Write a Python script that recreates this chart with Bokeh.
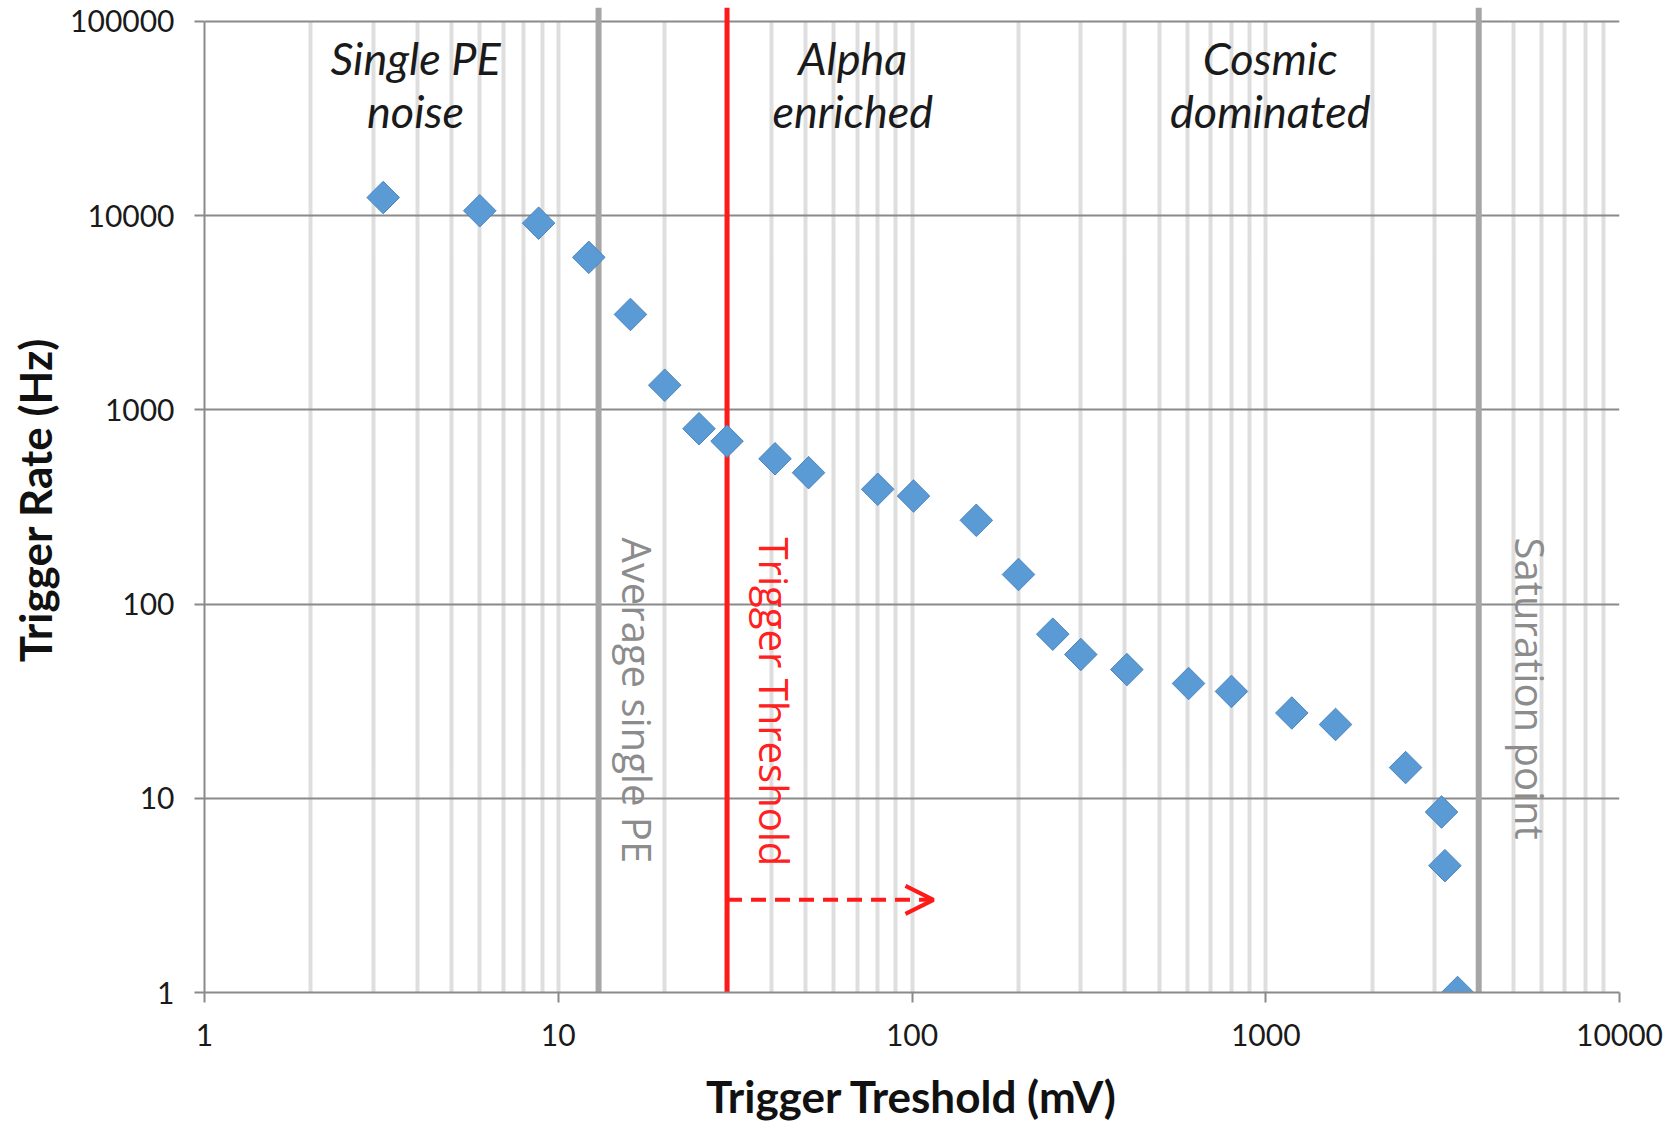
import math

from bokeh.core.properties import value
from bokeh.embed import file_html
from bokeh.models import Arrow, FixedTicker, OpenHead, Range1d
from bokeh.plotting import figure
from bokeh.resources import INLINE

# Measured trigger rate versus discriminator threshold
threshold_mv = [3.2, 6, 8.8, 12.2, 16, 20, 25, 30, 41, 51, 80, 101, 152, 200,
                250, 300, 405, 605, 800, 1185, 1575, 2485, 3140, 3210, 3485]
rate_hz = [12400, 10600, 9150, 6100, 3100, 1340, 800, 690, 560, 475, 390, 360,
           270, 142, 70, 55, 46, 39, 35.5, 27.5, 24, 14.4, 8.5, 4.5, 1.0]

x_ticks = [1, 10, 100, 1000, 10000]
x_tick_labels = ["1", "10", "100", "1000", "10000"]
y_ticks = [1, 10, 100, 1000, 10000, 100000]
y_tick_labels = ["1", "10", "100", "1000", "10000", "100000"]

# Regions of the threshold scan
region_first = ["Single PE", "Alpha", "Cosmic"]
region_second = ["noise", "enriched", "dominated"]
region_x = [3.95, 68, 1030]

# Reference levels drawn as vertical lines
ref_names = ["Average single PE", "Trigger Threshold", "Saturation point"]
ref_mv = [13, 30, 4000]
ref_colors = ["#a6a6a6", "#ff1a1a", "#a6a6a6"]
ref_text_colors = ["#8c8c8c", "#ff2020", "#8c8c8c"]
ref_widths = [6, 5, 6]

# Accepted-region arrow from the trigger threshold
arrow_from_mv, arrow_to_mv, arrow_rate = 30, 115, 3

Y_TOP = 118000   # room above the last decade for the reference lines

p = figure(width=1667, height=1124, x_axis_type="log", y_axis_type="log",
           x_range=Range1d(1, 10000), y_range=Range1d(1, Y_TOP),
           output_backend="svg", toolbar_location=None,
           min_border_left=204, min_border_right=48,
           min_border_top=7, min_border_bottom=130)
p.outline_line_color = None
p.background_fill_color = "white"

minor = [k * 10 ** d for d in range(4) for k in range(2, 10)]
p.xaxis.ticker = FixedTicker(ticks=x_ticks, minor_ticks=minor)
p.yaxis.ticker = FixedTicker(ticks=y_ticks, minor_ticks=[])
p.xgrid.ticker = p.xaxis.ticker
p.ygrid.ticker = p.yaxis.ticker
p.xaxis.major_label_overrides = dict(zip(x_ticks, x_tick_labels))
p.yaxis.major_label_overrides = dict(zip(y_ticks, y_tick_labels))

p.xgrid.grid_line_color = "#dedede"
p.xgrid.grid_line_width = 4
p.xgrid.minor_grid_line_color = "#dedede"
p.xgrid.minor_grid_line_width = 4
p.ygrid.grid_line_color = "#8a8a8a"
p.ygrid.grid_line_width = 2
p.ygrid.minor_grid_line_color = None

use_mask = True
for g in p.xgrid:
    if "cross_bounds" in g.properties():
        g.cross_bounds = (1, 100000)
        use_mask = False

p.yaxis.bounds = (1, 100000)

for ax in (p.xaxis, p.yaxis):
    ax.axis_line_color = "#8a8a8a"
    ax.axis_line_width = 2
    ax.major_tick_line_color = "#8a8a8a"
    ax.major_tick_line_width = 2
    ax.major_tick_out = 10
    ax.major_tick_in = 0
    ax.minor_tick_line_color = None
    ax.major_label_text_font = "Lato"
    ax.major_label_text_font_size = "30px"
    ax.major_label_text_color = "#1a1a1a"
    ax.axis_label_text_font = "Lato"
    ax.axis_label_text_font_style = "bold"
    ax.axis_label_text_font_size = "44px"
    ax.axis_label_text_color = "#111111"

p.xaxis.major_label_standoff = 21
p.yaxis.major_label_standoff = 20
p.xaxis.axis_label = "Trigger Treshold (mV)"
p.yaxis.axis_label = "Trigger Rate (Hz)"
p.xaxis.axis_label_standoff = 21
p.yaxis.axis_label_standoff = 6

if use_mask:
    p.quad(left=1, right=10000, bottom=100000 * 1.004, top=Y_TOP,
           fill_color="white", line_color=None)

# Vertical reference lines and their labels
p.segment(x0=ref_mv, y0=[1] * 3, x1=ref_mv, y1=[Y_TOP] * 3,
          line_color=ref_colors, line_width=ref_widths)
p.text(x=ref_mv, y=[220] * 3, text=ref_names, angle=-math.pi / 2,
       x_offset=[39, 47, 52], text_align="left", text_baseline="alphabetic",
       text_font=value("Open Sans"), text_font_size="40px",
       text_color=ref_text_colors)

p.add_layout(Arrow(end=OpenHead(size=28, line_color="#ff1a1a", line_width=4),
                   x_start=arrow_from_mv, y_start=arrow_rate,
                   x_end=arrow_to_mv, y_end=arrow_rate,
                   line_color="#ff1a1a", line_width=4, line_dash="15 9"))

# Region captions
p.text(x=region_x, y=[64700] * 3, text=region_first, text_align="center",
       text_baseline="middle", text_font=value("Lato"),
       text_font_style="italic", text_font_size="45px", text_color="#1a1a1a")
p.text(x=region_x, y=[34600] * 3, text=region_second, text_align="center",
       text_baseline="middle", text_font=value("Lato"),
       text_font_style="italic", text_font_size="45px", text_color="#1a1a1a")

# Data points
p.scatter(threshold_mv, rate_hz, marker="square", angle=math.pi / 4, size=23,
          fill_color="#5b9bd5", line_color="#4a84bc", line_width=1)

open("out.html", "w").write(file_html(p, INLINE))
